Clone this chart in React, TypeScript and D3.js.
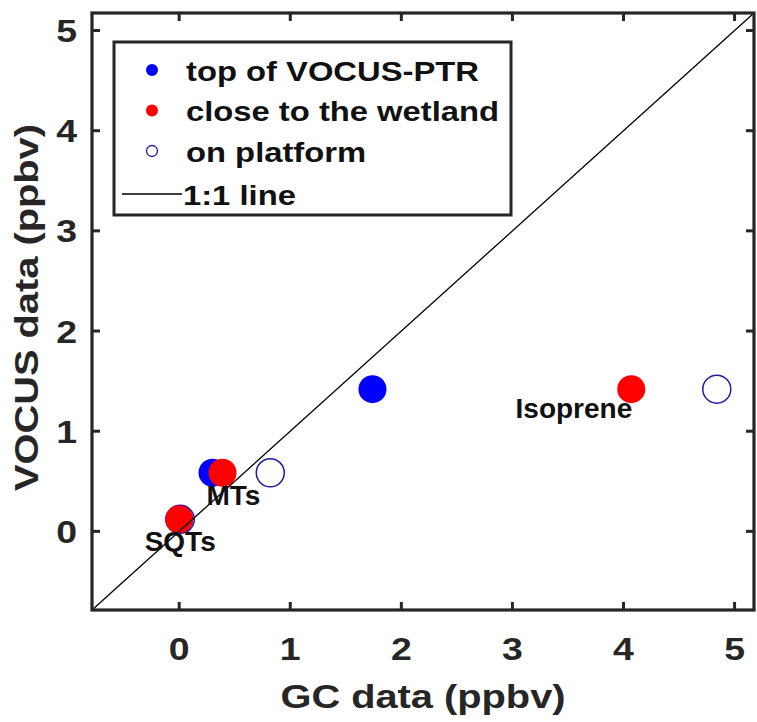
import React from "react";
import * as d3 from "d3";

// Sampling sites and compounds
const compounds = ["Isoprene", "MTs", "SQTs"];
// GC concentrations (ppbv) for each site, per compound
const gcTopOfVocus = [1.74, 0.3, 0.0];
const gcWetland = [4.07, 0.39, 0.0];
const gcPlatform = [4.84, 0.82, 0.01];
// VOCUS concentrations (ppbv), per compound
const vocusValues = [1.42, 0.585, 0.12];

const xTicks = [0, 1, 2, 3, 4, 5];
const yTicks = [0, 1, 2, 3, 4, 5];
const legendLabels = ["top of VOCUS-PTR", "close to the wetland", "on platform", "1:1 line"];

const W = 757;
const H = 722;
const plot = { left: 92, right: 754, top: 13, bottom: 610 };
const domain: [number, number] = [-0.785, 5.175];

const FONT = "'Liberation Sans', Arial, Helvetica, sans-serif";
const STRETCH = 1.17;
const BLUE = "#0000ff";
const RED = "#ff0000";
const NAVY = "#1c1ca0";

// label placement relative to the "close to the wetland" point (pixels)
const labelPlacement: Record<string, { dx: number; dy: number; anchor: string }> = {
  Isoprene: { dx: 1, dy: 29, anchor: "end" },
  MTs: { dx: -16, dy: 32, anchor: "start" },
  SQTs: { dx: 1, dy: 32, anchor: "middle" },
};

export default function App() {
  const x = d3.scaleLinear().domain(domain).range([plot.left, plot.right]);
  const y = d3.scaleLinear().domain(domain).range([plot.bottom, plot.top]);
  const r = 14;
  const tick = 8;
  const oneToOne = d3
    .line<number>()
    .x((d) => x(d))
    .y((d) => y(d))(domain);

  const legend = { x: 114, y: 42, w: 397, h: 173 };
  const rowY = [70, 110.5, 151, 194];
  const markerX = 152;
  const textX = 186;

  return (
    <svg
      width={W}
      height={H}
      viewBox={`0 0 ${W} ${H}`}
      style={{ position: "absolute", left: 0, top: 0, background: "#fff" }}
    >
      <rect x={0} y={0} width={W} height={H} fill="#fff" />

      {/* markers */}
      {compounds.map((c, i) => (
        <circle key={"p" + c} cx={x(gcPlatform[i])} cy={y(vocusValues[i])} r={r}
          fill="none" stroke={NAVY} strokeWidth={1.5} />
      ))}
      {compounds.map((c, i) => (
        <circle key={"b" + c} cx={x(gcTopOfVocus[i])} cy={y(vocusValues[i])} r={r} fill={BLUE} />
      ))}
      {compounds.map((c, i) => (
        <circle key={"r" + c} cx={x(gcWetland[i])} cy={y(vocusValues[i])} r={r} fill={RED} />
      ))}

      {/* 1:1 line */}
      <path d={oneToOne ?? ""} stroke="#000" strokeWidth={1.3} fill="none" />

      {/* compound labels */}
      {compounds.map((c, i) => {
        const p = labelPlacement[c];
        return (
          <text key={"l" + c} x={x(gcWetland[i]) + p.dx} y={y(vocusValues[i]) + p.dy}
            textAnchor={p.anchor as any} fontFamily={FONT} fontWeight="bold" fontSize={28} fill="#111">
            {c}
          </text>
        );
      })}

      {/* frame */}
      <rect x={plot.left} y={plot.top} width={plot.right - plot.left} height={plot.bottom - plot.top}
        fill="none" stroke="#262626" strokeWidth={3.2} />

      {/* ticks on all sides */}
      {xTicks.map((t) => (
        <g key={"xt" + t} stroke="#262626" strokeWidth={3}>
          <line x1={x(t)} x2={x(t)} y1={plot.bottom} y2={plot.bottom - tick} />
          <line x1={x(t)} x2={x(t)} y1={plot.top} y2={plot.top + tick} />
        </g>
      ))}
      {yTicks.map((t) => (
        <g key={"yt" + t} stroke="#262626" strokeWidth={3}>
          <line x1={plot.left} x2={plot.left + tick} y1={y(t)} y2={y(t)} />
          <line x1={plot.right} x2={plot.right - tick} y1={y(t)} y2={y(t)} />
        </g>
      ))}

      {/* tick labels */}
      {xTicks.map((t) => (
        <text key={"xl" + t} transform={`translate(${x(t)},660) scale(${STRETCH},1)`}
          textAnchor="middle" fontFamily={FONT} fontWeight="bold" fontSize={32} fill="#262626">
          {t}
        </text>
      ))}
      {yTicks.map((t) => (
        <text key={"yl" + t} transform={`translate(77,${y(t) + 11.5}) scale(${STRETCH},1)`}
          textAnchor="end" fontFamily={FONT} fontWeight="bold" fontSize={32} fill="#262626">
          {t}
        </text>
      ))}

      {/* axis titles */}
      <text transform={`translate(${(plot.left + plot.right) / 2},708) scale(${STRETCH},1)`}
        textAnchor="middle" fontFamily={FONT} fontWeight="bold" fontSize={34} fill="#262626">
        GC data (ppbv)
      </text>
      <text transform={`translate(38,${(plot.top + plot.bottom) / 2 - 4}) rotate(-90) scale(${STRETCH},1)`}
        textAnchor="middle" fontFamily={FONT} fontWeight="bold" fontSize={34} fill="#262626">
        VOCUS data (ppbv)
      </text>

      {/* legend */}
      <rect x={legend.x} y={legend.y} width={legend.w} height={legend.h} fill="#fff"
        stroke="#262626" strokeWidth={3} />
      <circle cx={markerX} cy={rowY[0]} r={6} fill={BLUE} />
      <circle cx={markerX} cy={rowY[1]} r={6} fill={RED} />
      <circle cx={markerX} cy={rowY[2]} r={5.5} fill="none" stroke={NAVY} strokeWidth={1.3} />
      <line x1={122} x2={182} y1={rowY[3]} y2={rowY[3]} stroke="#000" strokeWidth={1.3} />
      {legendLabels.map((lab, i) => (
        <text key={lab} transform={`translate(${i === 3 ? 183 : textX},${rowY[i] + 10.5}) scale(${STRETCH},1)`}
          fontFamily={FONT} fontWeight="bold" fontSize={28} fill="#111">
          {lab}
        </text>
      ))}
    </svg>
  );
}
